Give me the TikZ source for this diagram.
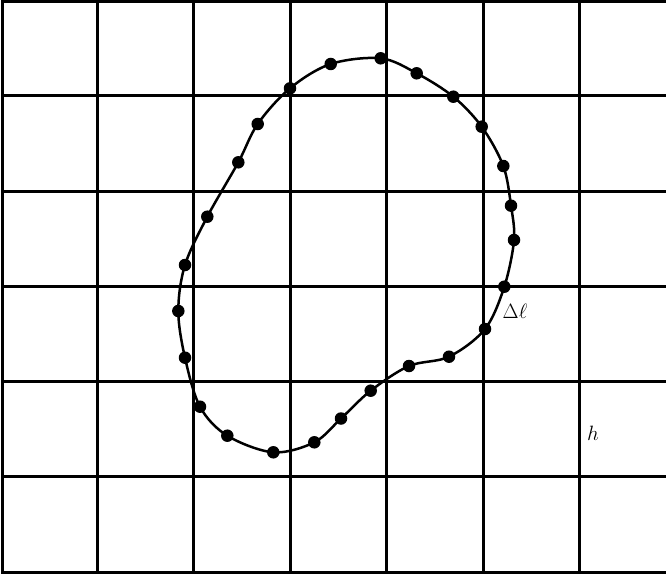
\documentclass[tikz,border=0pt]{standalone}
\usetikzlibrary{calc}
\begin{document}
\begin{tikzpicture}[x=1pt,y=-1pt,
  gridline/.style={line width=3pt,line cap=rect},
  curveline/.style={line width=2.5pt},
  dotnode/.style={circle,fill=black,inner sep=0pt,minimum size=12.5pt},
  lbl/.style={inner sep=0pt,font=\fontsize{19.5}{24}\selectfont}]
\useasboundingbox (0,0) rectangle (666,575);
% grid
\foreach \x in {2,97,193,290,386,483,579}{\draw[gridline] (\x,2) -- (\x,572);}
\foreach \y in {2,96,191,286,381,476,572}{\draw[gridline] (2,\y) -- (668,\y);}
% points
\foreach \n/\px/\py in {1/380.7/58.3, 2/416.7/73.3, 3/453.3/96.7, 4/481.7/126.7, 5/503.3/166,
  6/511/205.7, 7/514/240, 8/504.3/286.7, 9/485/329, 10/449/356.7, 11/409/366,
  12/370.7/390.7, 13/341/418.5, 14/314.3/442.3, 15/273.3/452.3, 16/227.3/435.7,
  17/200/406.7, 18/185/357.7, 19/178.3/311, 20/185/265, 21/207.3/216.7,
  22/238.3/162.3, 23/257.7/124, 24/290/88.3, 25/330.7/64}{
  \coordinate (p\n) at (\px,\py);}
\draw[curveline] plot[smooth cycle,tension=0.55] coordinates {
  (p1) (p2) (p3) (p4) (p5) (p6) (p7) (p8) (p9) (p10) (p11) (p12) (p13) (p14)
  (p15) (p16) (p17) (p18) (p19) (p20) (p21) (p22) (p23) (p24) (p25)};
\foreach \n in {1,...,25}{\node[dotnode] (d\n) at (p\n) {};}
\node[lbl] (dl) at (515,311) {$\Delta\ell$};
\node[lbl] (h) at (593,433) {$h$};
\end{tikzpicture}
\end{document}
